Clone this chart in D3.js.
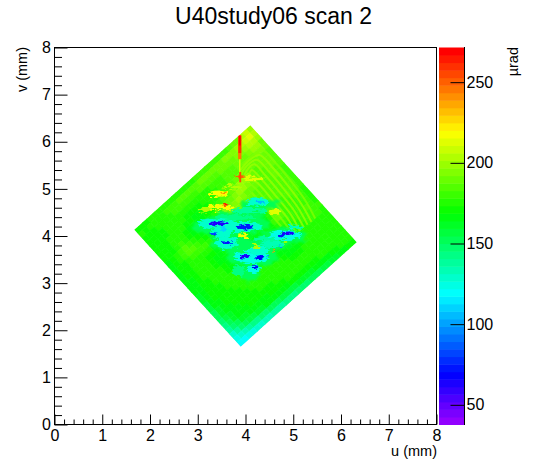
<!DOCTYPE html>
<html><head><meta charset="utf-8">
<script src="https://cdn.jsdelivr.net/npm/d3@7"></script>
<style>html,body{margin:0;background:#fff}svg{display:block}text{font-family:"Liberation Sans",Arial,sans-serif;fill:#000}</style>
</head><body><div id="c"></div>
<script>
const titleText = "U40study06 scan 2";
const xLabel = "u (mm)", yLabel = "v (mm)", zLabel = "µrad";
const axisTicks = [0,1,2,3,4,5,6,7,8];
const zTicks = [50,100,150,200,250];
const zDomain = [37.8,271.5];
// diamond corners in mm: top, right, left
const cornerTop = [4.10,6.35], cornerRight = [6.33,3.87], cornerLeft = [1.67,4.13];
// values in µrad on a grid aligned with the diamond edges
const rows = [
[200,205,198,192,188,186,185,184,183,182,181,180,180,179,178,178,178,178,180,178,176,175,175,174,174,174,174,172],
[210,212,205,198,194,190,188,188,186,186,185,185,184,184,182,180,180,182,182,180,178,176,175,175,175,176,176,172],
[205,210,205,198,195,192,190,190,188,188,187,186,186,185,184,182,182,184,182,180,178,176,175,176,176,176,174,168],
[192,205,200,196,192,190,188,187,186,186,185,185,184,184,182,182,182,182,182,180,178,176,176,178,178,176,172,165],
[188,198,196,192,190,188,186,186,186,184,184,184,183,182,182,182,180,180,180,178,176,175,176,178,178,175,170,162],
[184,196,194,190,188,188,190,188,186,184,184,184,184,184,182,182,180,180,178,176,175,175,176,178,178,175,168,160],
[182,194,192,188,188,192,198,192,188,186,186,186,186,186,186,186,182,178,176,174,172,174,176,178,176,174,166,158],
[180,194,190,186,186,192,200,196,190,186,186,186,186,186,188,188,182,176,174,172,170,172,175,176,176,172,164,155],
[180,192,190,186,186,190,198,200,192,188,184,182,180,176,178,180,178,172,168,165,165,168,172,175,175,172,164,152],
[180,192,188,184,184,186,194,198,196,190,182,176,170,165,168,172,172,168,165,162,162,166,172,175,175,172,162,150],
[180,190,186,182,182,184,190,196,198,192,182,172,166,162,165,170,172,166,164,162,165,168,172,175,175,172,162,150],
[180,190,186,182,180,182,186,192,196,194,186,174,168,164,164,168,172,170,166,165,168,172,175,176,175,170,160,148],
[180,188,186,180,178,180,184,188,192,196,188,176,168,165,162,166,170,172,170,168,170,174,176,176,174,170,160,148],
[180,188,184,178,176,176,180,184,190,196,190,176,168,164,162,165,170,175,172,170,172,175,177,176,174,170,158,146],
[178,186,184,176,174,174,176,180,186,190,184,174,166,165,170,172,170,168,170,172,174,176,176,175,172,168,158,145],
[178,186,182,176,174,172,172,176,180,182,176,168,164,170,176,175,170,165,166,170,174,176,176,174,172,168,156,144],
[178,186,182,176,172,170,170,172,174,172,166,162,164,168,172,172,168,162,162,168,174,176,175,172,170,166,156,142],
[178,184,180,176,172,168,166,168,168,164,160,160,164,168,170,168,164,158,160,168,174,175,174,172,170,166,154,140],
[178,184,180,176,172,168,164,164,162,160,162,164,166,170,168,165,160,162,168,172,175,175,174,172,168,164,152,138],
[178,182,180,176,172,170,166,162,165,170,174,172,168,168,166,165,166,170,174,175,175,174,172,170,168,164,150,136],
[178,182,180,176,174,172,168,166,170,176,180,174,170,168,168,170,172,174,175,175,174,172,172,170,166,162,148,134],
[176,180,178,175,174,174,172,172,175,180,180,176,172,172,172,175,176,176,175,174,172,172,170,170,166,160,146,132],
[176,178,176,174,174,176,176,178,182,184,180,176,175,175,176,178,176,175,174,172,172,170,170,168,164,158,144,130],
[175,176,175,174,174,176,178,180,186,184,180,178,176,178,178,176,174,172,172,172,170,170,168,166,162,156,142,128],
[174,175,174,172,172,174,176,178,180,180,178,176,176,176,174,172,172,172,170,170,170,168,166,164,160,152,138,125],
[172,174,172,172,172,172,172,172,174,174,172,172,172,172,170,170,170,170,170,168,166,164,162,160,154,146,132,122],
[170,172,172,170,170,170,170,170,170,170,170,170,170,168,168,168,168,166,166,164,162,160,158,154,148,140,128,120],
[172,174,172,172,170,170,170,170,168,168,168,168,166,166,164,164,162,160,158,155,152,150,146,142,136,130,124,118]
];
// ripple crests: [u,v] points and value
const ripples = [
[[3.93,5.50],[4.10,5.67],[4.35,5.82],[4.62,5.56],[4.94,5.18],[5.25,4.76],[5.46,4.37]],
[[3.90,5.40],[4.05,5.58],[4.29,5.72],[4.55,5.47],[4.87,5.09],[5.17,4.68],[5.38,4.30]],
[[3.90,5.30],[4.02,5.48],[4.23,5.62],[4.48,5.38],[4.80,5.00],[5.10,4.60],[5.30,4.24]],
[[3.95,5.20],[4.02,5.38],[4.18,5.52],[4.41,5.29],[4.73,4.91],[5.03,4.52],[5.22,4.18]],
[[4.05,5.18],[4.13,5.40],[4.34,5.20],[4.66,4.82],[4.96,4.44],[5.14,4.10]],
[[4.08,5.25],[4.27,5.11],[4.59,4.73],[4.89,4.36],[5.06,4.05]],
[[4.05,5.13],[4.20,5.02],[4.52,4.64],[4.82,4.28],[5.00,4.00]],
[[4.13,4.93],[4.45,4.55],[4.75,4.20]]
];
const rippleValues = [194,197,199,200,200,198,196,194];
// broad spring-green patches: centre u, centre v, extent u, extent v, value
const midSpots = [
[3.50,4.20,1.15,.38,150],[4.00,4.25,1.05,.32,150],[4.15,3.60,1.05,.52,150],
[4.80,4.00,.95,.32,150],[4.30,4.65,.85,.25,150],[3.70,3.85,.85,.38,150],
[4.50,3.85,.75,.32,150],[3.90,4.45,1.05,.20,150],[4.10,3.20,.42,.32,150]
];
// cyan and yellow patches: centre u, centre v, extent u, extent v, value
const hazeSpots = [
[3.40,4.27,.82,.22,128],[3.50,4.08,.42,.25,128],[3.92,4.19,.88,.22,128],
[4.06,4.54,.78,.12,138],[4.27,4.72,.50,.16,128],[3.61,3.85,.50,.25,128],
[4.13,3.55,.72,.25,122],[4.27,3.69,.42,.17,128],[4.17,3.30,.26,.17,122],
[4.83,4.01,.72,.20,122],[4.55,3.83,.50,.17,132],[5.04,4.19,.32,.11,132],
[3.78,4.40,.80,.12,142],[4.41,3.94,.50,.12,138],[3.85,3.27,.26,.24,142],
[3.44,4.90,.40,.13,218],[3.47,4.61,.56,.13,218],[3.16,4.56,.32,.08,205],
[3.96,4.01,.25,.10,218],[4.17,5.21,.46,.10,212],[4.62,4.50,.25,.12,212],
[4.20,3.78,.20,.07,205],[3.71,5.04,.40,.11,205],[4.83,3.87,.13,.07,200]
];
// sharp blobs: centre u, centre v, extent u, extent v, value
const coreSpots = [
[3.44,4.27,.42,.085,62],[3.33,4.05,.14,.06,80],[3.54,4.15,.10,.14,110],
[3.99,4.19,.35,.10,72],[3.61,3.85,.21,.085,75],[3.99,3.57,.21,.10,62],
[4.29,3.54,.17,.10,66],[4.19,3.34,.11,.085,70],[4.90,4.06,.28,.07,62],
[4.75,4.00,.14,.06,72],[4.31,4.72,.20,.055,105],[4.73,3.78,.08,.04,95],
[4.47,3.57,.07,.04,95],[4.59,3.69,.06,.04,240],
[3.89,5.26,.21,.07,250],[3.57,4.68,.08,.08,265],[3.54,4.91,.10,.05,240]
];
// the vertical streak at the top of the diamond: centre u, centre v, extent u, extent v, value
const streak = [
[3.88,5.50,.03,.32,212],[3.88,5.88,.07,.50,245],[3.88,5.95,.06,.38,262],[3.88,6.02,.04,.20,271],[3.89,5.25,.04,.22,255]
];

const W=546,H=472,L=54,R=436,T=47,B=424,ZL=439,ZR=464;
const x=d3.scaleLinear([0,8],[L+.5,R+.5]);
const y=d3.scaleLinear([0,8],[B+.5,T+.5]);
const yz=d3.scaleLinear(zDomain,[B+.5,T+.5]);
const palette=d3.range(50).map(i=>d3.hsl(280-(i+1)*5.6,1,.5).formatHex());
const color=d3.scaleQuantize(zDomain,palette);

const svg=d3.select("#c").append("svg").attr("width",W).attr("height",H);
const addRough=(id,freq,scale,blur)=>{
  const f=svg.append("filter").attr("id",id).attr("x","-40%").attr("y","-40%").attr("width","180%").attr("height","180%");
  f.append("feTurbulence").attr("type","fractalNoise").attr("baseFrequency",freq).attr("numOctaves",2).attr("seed",4).attr("result","n");
  f.append("feDisplacementMap").attr("in","SourceGraphic").attr("in2","n").attr("scale",scale).attr("xChannelSelector","R").attr("yChannelSelector","G").attr("result","d");
  f.append("feGaussianBlur").attr("in","d").attr("stdDeviation",blur);
};
addRough("roughMid","0.12 0.3",12,1);
addRough("roughHaze","0.15 0.4",9,.5);
addRough("roughCore","0.25 0.5",6,.15);
const cornerBottom=[cornerRight[0]+cornerLeft[0]-cornerTop[0],cornerRight[1]+cornerLeft[1]-cornerTop[1]];
const pt=(a,b)=>{
  const u=cornerTop[0]+a*(cornerRight[0]-cornerTop[0])+b*(cornerLeft[0]-cornerTop[0]);
  const v=cornerTop[1]+a*(cornerRight[1]-cornerTop[1])+b*(cornerLeft[1]-cornerTop[1]);
  return [x(u),y(v)];
};
svg.append("clipPath").attr("id","dia").append("polygon")
  .attr("points",[cornerTop,cornerRight,cornerBottom,cornerLeft].map(c=>[x(c[0]),y(c[1])].join(",")).join(" "));
const g=svg.append("g").attr("clip-path","url(#dia)");
const n=rows.length,m=rows[0].length;
const cells=rows.flatMap((r,i)=>r.map((val,j)=>({i,j,val})));
g.selectAll("path.cell").data(cells).join("path").attr("class","cell")
  .attr("d",d=>"M"+[pt(d.j/m,d.i/n),pt((d.j+1)/m,d.i/n),pt((d.j+1)/m,(d.i+1)/n),pt(d.j/m,(d.i+1)/n)].join("L")+"Z")
  .attr("fill",d=>color(d.val)).attr("stroke",d=>color(d.val)).attr("stroke-width",.7);
const line=d3.line().x(p=>x(p[0])).y(p=>y(p[1])).curve(d3.curveCatmullRom);
g.selectAll("path.rip").data(ripples).join("path").attr("class","rip")
  .attr("d",line).attr("fill","none").attr("stroke",(d,i)=>color(rippleValues[i]))
  .attr("stroke-width",2).attr("stroke-opacity",.8);
const drawSpots=(parent,data)=>parent.selectAll("ellipse").data(data).join("ellipse")
  .attr("cx",d=>x(d[0])).attr("cy",d=>y(d[1]))
  .attr("rx",d=>(x(d[2])-x(0))/2).attr("ry",d=>(y(0)-y(d[3]))/2)
  .attr("fill",d=>color(d[4]));
drawSpots(g.append("g").attr("filter","url(#roughMid)"),midSpots);
drawSpots(g.append("g").attr("filter","url(#roughHaze)"),hazeSpots);
drawSpots(g.append("g").attr("filter","url(#roughCore)"),coreSpots);
g.append("g").selectAll("rect").data(streak).join("rect")
  .attr("x",d=>x(d[0]-d[2]/2)).attr("y",d=>y(d[1]+d[3]/2))
  .attr("width",d=>x(d[2])-x(0)).attr("height",d=>y(0)-y(d[3]))
  .attr("fill",d=>color(d[4]));

// palette
const bands=d3.range(50);
const zBand=(zDomain[1]-zDomain[0])/50;
svg.selectAll("rect.band").data(bands).join("rect").attr("class","band")
  .attr("x",ZL).attr("width",ZR-ZL)
  .attr("y",i=>yz(zDomain[0]+(i+1)*zBand)).attr("height",i=>yz(zDomain[0]+i*zBand)-yz(zDomain[0]+(i+1)*zBand)+.5)
  .attr("fill",i=>palette[i]);

function style(sel,fs){
  sel.select(".domain").remove();
  sel.selectAll("line").attr("stroke","#000");
  sel.selectAll("text").attr("font-size",fs);
}
const minor=d3.range(0,8.001,.2).filter(v=>Math.abs(v-Math.round(v))>.01);
svg.append("g").attr("transform",`translate(0,${B+.5})`).call(d3.axisBottom(x).tickValues(minor).tickSize(-5).tickFormat("")).call(style,0);
svg.append("g").attr("transform",`translate(${L+.5},0)`).call(d3.axisLeft(y).tickValues(minor).tickSize(-7.5).tickFormat("")).call(style,0);
svg.append("g").attr("transform",`translate(0,${B+.5})`).call(d3.axisBottom(x).tickValues(axisTicks).tickSize(-10).tickPadding(8).tickFormat(d3.format("d"))).call(style,16)
  .selectAll("text").attr("dy","0.71em").attr("y",5);
svg.append("g").attr("transform",`translate(${L+.5},0)`).call(d3.axisLeft(y).tickValues(axisTicks).tickSize(-13).tickPadding(3).tickFormat(d3.format("d"))).call(style,16)
  .selectAll("text").attr("x",-3.5);
svg.append("rect").attr("x",L+.5).attr("y",T+.5).attr("width",R-L).attr("height",B-T).attr("fill","none").attr("stroke","#000");

const zAxis=svg.append("g").attr("transform",`translate(${ZR+.5},0)`).call(d3.axisRight(yz).tickValues(zTicks).tickSize(-14).tickPadding(2)).call(style,16);
zAxis.selectAll("text").attr("x",2);
svg.append("line").attr("x1",ZR+.5).attr("x2",ZR+.5).attr("y1",T).attr("y2",B+1).attr("stroke","#000");

svg.append("text").attr("x",273.5).attr("y",24).attr("text-anchor","middle").attr("font-size",23).text(titleText);
svg.append("text").attr("x",437).attr("y",456).attr("text-anchor","end").attr("font-size",14.5).text(xLabel);
svg.append("text").attr("transform","translate(27,47) rotate(-90)").attr("text-anchor","end").attr("font-size",14.5).text(yLabel);
svg.append("text").attr("transform","translate(518,47) rotate(-90)").attr("text-anchor","end").attr("font-size",14.5).text(zLabel);
</script></body></html>
